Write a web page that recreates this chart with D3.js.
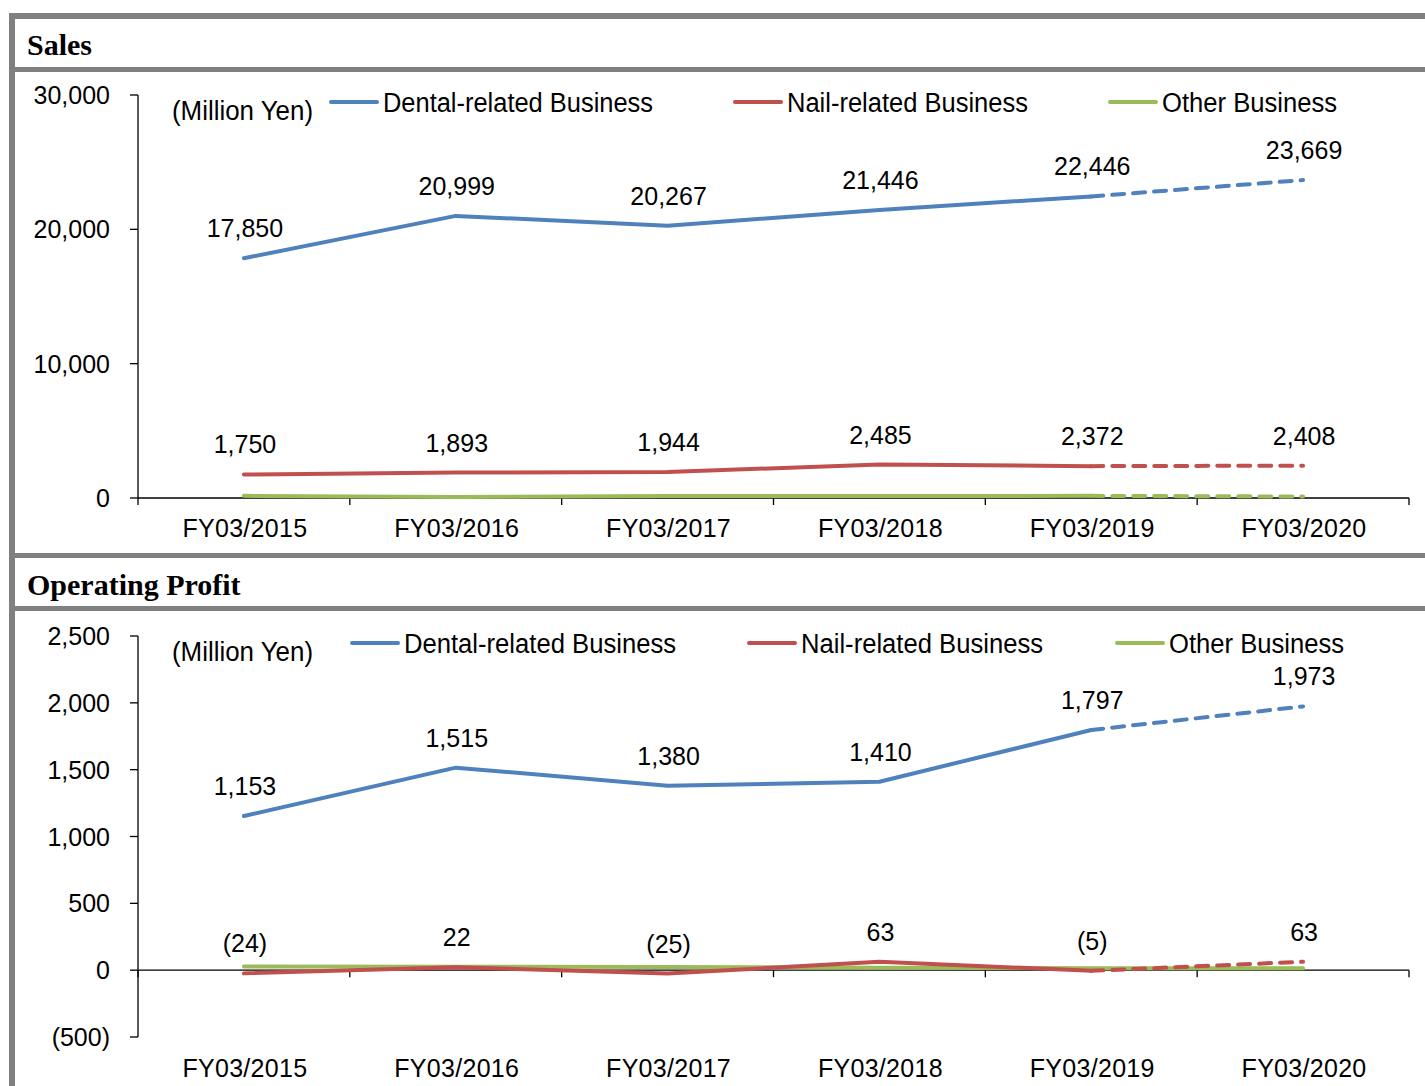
<!DOCTYPE html>
<html>
<head>
<meta charset="utf-8">
<script src="https://cdn.jsdelivr.net/npm/d3@7"></script>
<style>
  body { margin: 0; background: #fff; }
  text { font-family: Arial, "Liberation Sans", sans-serif; fill: #000; }
</style>
</head>
<body>
<script>
// categories and series
const categories = ["FY03/2015", "FY03/2016", "FY03/2017", "FY03/2018", "FY03/2019", "FY03/2020"];
const seriesNames = ["Dental-related Business", "Nail-related Business", "Other Business"];
const seriesColors = ["#4f81bd", "#c0504d", "#9bbb59"];

const salesDental = [17850, 20999, 20267, 21446, 22446, 23669];
const salesNail = [1750, 1893, 1944, 2485, 2372, 2408];
const salesOther = [160, 80, 140, 150, 160, 110];

const profitDental = [1153, 1515, 1380, 1410, 1797, 1973];
const profitNail = [-24, 22, -25, 63, -5, 63];
const profitOther = [27, 25, 24, 18, 15, 15];

const salesTicks = [0, 10000, 20000, 30000];
const profitTicks = [-500, 0, 500, 1000, 1500, 2000, 2500];

const W = 1425, H = 1086;
const gray = "#808080";

const svg = d3.select("body").append("svg")
    .attr("width", W)
    .attr("height", H);

// cadre gris du tableau
svg.append("rect").attr("x", 9).attr("y", 13).attr("width", W).attr("height", 6).attr("fill", gray);
svg.append("rect").attr("x", 9).attr("y", 13).attr("width", 6).attr("height", H).attr("fill", gray);
[67, 553, 606].forEach(y => {
    svg.append("rect").attr("x", 9).attr("y", y).attr("width", W).attr("height", 5).attr("fill", gray);
});

// titres
svg.append("text").attr("x", 27).attr("y", 55).text("Sales")
    .style("font-family", "'Liberation Serif', 'DejaVu Serif', serif")
    .style("font-weight", "bold").style("font-size", "30px");
svg.append("text").attr("x", 27).attr("y", 595).text("Operating Profit")
    .style("font-family", "'Liberation Serif', 'DejaVu Serif', serif")
    .style("font-weight", "bold").style("font-size", "30px");

const fmt = v => v < 0 ? "(" + d3.format(",")(-v) + ")" : d3.format(",")(v);

const x = d3.scaleBand().domain(categories).range([138, 1409]).padding(0);
const cx = c => x(c) + x.bandwidth() / 2;

function drawPanel(p) {
    const g = svg.append("g");
    const y = d3.scaleLinear().domain(p.domain).range(p.range);

    // axe Y
    g.append("line")
        .attr("x1", 138).attr("x2", 138)
        .attr("y1", y(p.domain[0])).attr("y2", y(p.domain[1]))
        .attr("stroke", "#000").attr("stroke-width", 1.3);
    p.ticks.forEach(t => {
        g.append("line")
            .attr("x1", 130).attr("x2", 138)
            .attr("y1", y(t)).attr("y2", y(t))
            .attr("stroke", "#000").attr("stroke-width", 1.3);
        g.append("text")
            .attr("x", 110).attr("y", y(t) + 9)
            .attr("text-anchor", "end")
            .style("font-size", "25px")
            .text(fmt(t));
    });

    // axe X (à zéro)
    const y0 = y(0);
    g.append("line")
        .attr("x1", 138).attr("x2", x.range()[1])
        .attr("y1", y0).attr("y2", y0)
        .attr("stroke", "#000").attr("stroke-width", 1.3);
    const bounds = categories.map(c => x(c)).concat([x.range()[1]]);
    bounds.forEach(b => {
        g.append("line")
            .attr("x1", b).attr("x2", b)
            .attr("y1", y0).attr("y2", y0 + 7)
            .attr("stroke", "#000").attr("stroke-width", 1.3);
    });
    categories.forEach(c => {
        g.append("text")
            .attr("x", cx(c) + 1).attr("y", p.catY)
            .attr("text-anchor", "middle")
            .style("font-size", "25px")
            .style("letter-spacing", "0.3px")
            .text(c);
    });

    // séries : trait plein jusqu'à FY03/2019, pointillé pour la prévision
    const line = d3.line().x(d => cx(d.c)).y(d => y(d.v));
    const seriesData = [p.dental, p.nail, p.other];
    // ordre de tracé : vert, bleu, rouge
    [2, 0, 1].forEach(i => {
        const pts = seriesData[i].map((v, j) => ({ c: categories[j], v: v }));
        const solidAll = p.solidSeries.includes(i);
        g.append("path")
            .datum(solidAll ? pts : pts.slice(0, 5))
            .attr("d", line)
            .attr("fill", "none")
            .attr("stroke", seriesColors[i])
            .attr("stroke-width", 4)
            .attr("stroke-linejoin", "round")
            .attr("stroke-linecap", "round");
        if (!solidAll) {
            g.append("path")
                .datum(pts.slice(4))
                .attr("d", line)
                .attr("fill", "none")
                .attr("stroke", seriesColors[i])
                .attr("stroke-width", 4)
                .attr("stroke-linecap", "round")
                .attr("stroke-dasharray", "12,9");
        }
    });

    // étiquettes de valeurs (dentaire et ongles)
    [p.dental, p.nail].forEach(vals => {
        vals.forEach((v, j) => {
            g.append("text")
                .attr("x", cx(categories[j]) + 1)
                .attr("y", y(v) - 21)
                .attr("text-anchor", "middle")
                .style("font-size", "25px")
                .text(fmt(v));
        });
    });

    // unité
    g.append("text")
        .attr("x", 172).attr("y", p.legendY + 18)
        .style("font-size", "27px")
        .attr("textLength", 141).attr("lengthAdjust", "spacingAndGlyphs")
        .text("(Million  Yen)");

    // légende
    seriesNames.forEach((name, i) => {
        const lx = p.legendX[i];
        g.append("line")
            .attr("x1", lx).attr("x2", lx + 46)
            .attr("y1", p.legendY).attr("y2", p.legendY)
            .attr("stroke", seriesColors[i]).attr("stroke-width", 4)
            .attr("stroke-linecap", "round");
        g.append("text")
            .attr("x", lx + 52).attr("y", p.legendY + 10)
            .style("font-size", "27px")
            .attr("textLength", p.legendW[i]).attr("lengthAdjust", "spacingAndGlyphs")
            .text(name);
    });
}

drawPanel({
    domain: [0, 30000], range: [498, 95], ticks: salesTicks,
    dental: salesDental, nail: salesNail, other: salesOther,
    catY: 537, legendY: 102, solidSeries: [],
    legendX: [331, 735, 1110], legendW: [270, 241, 175]
});

drawPanel({
    domain: [-500, 2500], range: [1037, 636], ticks: profitTicks,
    dental: profitDental, nail: profitNail, other: profitOther,
    catY: 1077, legendY: 643, solidSeries: [2],
    legendX: [352, 749, 1117], legendW: [272, 242, 175]
});
</script>
</body>
</html>
